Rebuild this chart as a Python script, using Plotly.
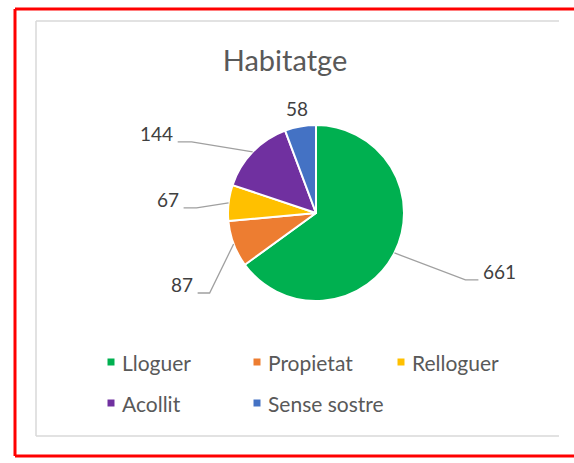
import math
import plotly.graph_objects as go

# ---- data ----
title_text = "Habitatge"
categories = ["Lloguer", "Propietat", "Relloguer", "Acollit", "Sense sostre"]
values = [661, 87, 67, 144, 58]
colors = ["#00B050", "#ED7D31", "#FFC000", "#7030A0", "#4472C4"]

# ---- layout / style (pixels) ----
W, H = 574, 463
CX, CY, R = 316, 213, 88          # pie centre and radius in px
FONT = "Lato"
TXT = "#595959"
LBL = "#404040"
# leader line: (elbow dx, elbow dy from slice edge, horizontal tail length); None = no leader
leader = {
    "Lloguer": (71, 27, 13),
    "Propietat": (-24, 49, -12),
    "Relloguer": (-32, 5, -13),
    "Acollit": (-61, -10, -14),
    "Sense sostre": None,
}
plain_offset = {"Sense sostre": (-3, -18)}
legend_cols = [111, 257, 401]
legend_rows = [362, 403]


def px(x):
    return x / W


def py(y):
    return 1 - y / H


fig = go.Figure(go.Pie(
    labels=categories, values=values, sort=False, direction="clockwise", rotation=0,
    marker=dict(colors=colors, line=dict(color="white", width=2)),
    textinfo="none", hoverinfo="label+value", showlegend=False,
    domain=dict(x=[px(CX - R), px(CX + R)], y=[py(CY + R), py(CY - R)]),
))

shapes = []
annotations = []

# data labels with leader lines, positions derived from slice angles
total = sum(values)
start = 0.0
for cat, v in zip(categories, values):
    span = 360.0 * v / total
    mid = math.radians(start + span / 2)
    start += span
    ex = CX + R * math.sin(mid)
    ey = CY - R * math.cos(mid)
    ld = leader[cat]
    if ld is None:
        dx, dy = plain_offset[cat]
        annotations.append(dict(x=px(ex + dx), y=py(ey + dy), xref="paper", yref="paper",
                                text=str(v), showarrow=False, xanchor="center", yanchor="middle",
                                font=dict(family=FONT, size=19, color=LBL)))
        continue
    bx, by = ex + ld[0], ey + ld[1]
    tx = bx + ld[2]
    shapes.append(dict(type="path", xref="paper", yref="paper",
                       path=f"M {px(ex)} {py(ey)} L {px(bx)} {py(by)} L {px(tx)} {py(by)}",
                       line=dict(color="#A0A0A0", width=1.3)))
    right = ld[2] > 0
    annotations.append(dict(x=px(tx + (3 if right else -3)), y=py(by - 8), xref="paper", yref="paper",
                            text=str(v), showarrow=False,
                            xanchor="left" if right else "right", yanchor="middle",
                            font=dict(family=FONT, size=19, color=LBL)))

# legend (manual, Excel-like small squares)
for i, (cat, col) in enumerate(zip(categories, colors)):
    lx = legend_cols[i % 3]
    ly = legend_rows[i // 3]
    shapes.append(dict(type="rect", xref="paper", yref="paper",
                       x0=px(lx - 3.5), x1=px(lx + 3.5), y0=py(ly + 3.5), y1=py(ly - 3.5),
                       fillcolor=col, line=dict(width=0)))
    annotations.append(dict(x=px(lx + 9), y=py(ly), xref="paper", yref="paper", text=cat,
                            showarrow=False, xanchor="left", yanchor="middle",
                            font=dict(family=FONT, size=21, color=TXT)))

# chart area border (grey) and outer red frame
grey = dict(color="#D9D9D9", width=1.5)
for x0, y0, x1, y1 in [(36, 21, 559, 21), (36, 21, 36, 436), (36, 436, 559, 436)]:
    shapes.append(dict(type="line", xref="paper", yref="paper",
                       x0=px(x0), y0=py(y0), x1=px(x1), y1=py(y1), line=grey))
red = dict(color="#FF0000", width=3)
for x0, y0, x1, y1 in [(15, 9, 580, 9), (15, 9, 15, 456), (15, 456, 580, 456)]:
    shapes.append(dict(type="line", xref="paper", yref="paper",
                       x0=px(x0), y0=py(y0), x1=px(x1), y1=py(y1), line=red))

fig.update_layout(
    width=W, height=H, autosize=False,
    margin=dict(l=0, r=0, t=0, b=0),
    paper_bgcolor="white", plot_bgcolor="white",
    title=dict(text=title_text, x=px(285), y=py(61), xanchor="center", yanchor="middle",
               font=dict(family=FONT, size=29, color=TXT)),
    shapes=shapes, annotations=annotations,
)

fig.write_html("out.html", config={"displayModeBar": False},
               post_script="document.body.style.margin='0';document.body.style.overflow='hidden';")
